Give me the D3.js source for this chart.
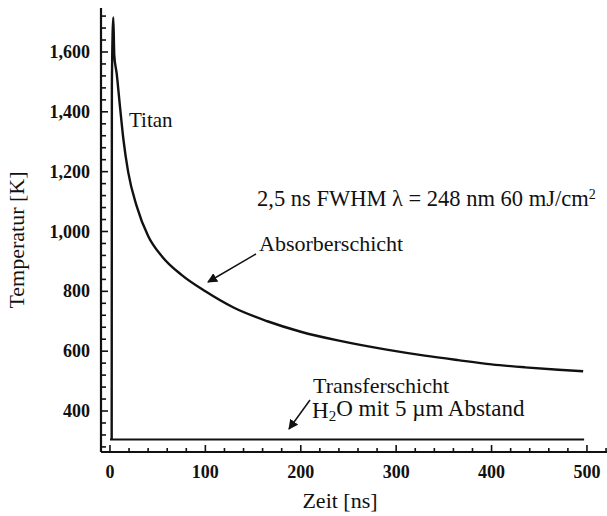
<!DOCTYPE html>
<html>
<head>
<meta charset="utf-8">
<script src="https://cdn.jsdelivr.net/npm/d3@7"></script>
<style>
  body { margin: 0; background: #fff; }
</style>
</head>
<body>
<div id="chart"></div>
<script>
// values
const absorberTime = [1.8, 2.0, 3.5, 4.5, 7, 10.5, 14, 19, 28, 40, 55, 75, 100, 130, 165, 200, 240, 290, 330, 365, 400, 435, 470, 496];
const absorberTemp = [305, 1490, 1715, 1590, 1529, 1417, 1310, 1200, 1085, 985, 915, 855, 800, 745, 700, 665, 635, 605, 585, 570, 556, 546, 538, 533];
const transferTime = [0, 497];
const transferTemp = [305, 305];
const xMajor = [0, 100, 200, 300, 400, 500];
const yMajor = [400, 600, 800, 1000, 1200, 1400, 1600];

const W = 607, H = 516;
const FONT = "'Liberation Serif', Tinos, 'Times New Roman', Times, serif";

const svg = d3.select("#chart").append("svg")
    .attr("width", W)
    .attr("height", H)
    .attr("font-family", FONT)
    .style("font-family", FONT);

// scales (axis lines run from x=101 to the right edge, y from 452 up to 8)
const x = d3.scaleLinear().domain([-9.4, 521]).range([101, 607]);
const y = d3.scaleLinear().domain([263, 1747]).range([452, 8]);

// minor ticks
const xMinor = d3.range(0, 521, 20);
const yMinor = d3.range(280, 1747, 40);

// x axis line + inward ticks
svg.append("line")
    .attr("x1", x.range()[0]).attr("x2", x.range()[1])
    .attr("y1", y.range()[0]).attr("y2", y.range()[0])
    .attr("stroke", "#111").attr("stroke-width", 2.2);
svg.selectAll("line.xminor")
    .data(xMinor)
    .enter().append("line")
    .attr("class", "xminor")
    .attr("x1", d => x(d)).attr("x2", d => x(d))
    .attr("y1", y.range()[0]).attr("y2", d => y.range()[0] - (d % 100 === 0 ? 7 : 4))
    .attr("stroke", "#111").attr("stroke-width", 1.6);

// y axis line + inward ticks
svg.append("line")
    .attr("x1", x.range()[0]).attr("x2", x.range()[0])
    .attr("y1", y.range()[0]).attr("y2", y.range()[1])
    .attr("stroke", "#111").attr("stroke-width", 2.2);
svg.selectAll("line.yminor")
    .data(yMinor)
    .enter().append("line")
    .attr("class", "yminor")
    .attr("x1", x.range()[0]).attr("x2", d => x.range()[0] + (d % 200 === 0 ? 7 : 5))
    .attr("y1", d => y(d)).attr("y2", d => y(d))
    .attr("stroke", "#111").attr("stroke-width", 1.6);

// tick labels
svg.selectAll("text.xlab")
    .data(xMajor)
    .enter().append("text")
    .attr("class", "xlab")
    .attr("x", d => x(d))
    .attr("y", 478)
    .attr("text-anchor", "middle")
    .attr("font-size", "18px")
    .attr("font-weight", "bold")
    .attr("fill", "#111")
    .text(d => d);

svg.selectAll("text.ylab")
    .data(yMajor)
    .enter().append("text")
    .attr("class", "ylab")
    .attr("x", 90)
    .attr("y", d => y(d))
    .attr("dy", "0.34em")
    .attr("text-anchor", "end")
    .attr("font-size", "18px")
    .attr("font-weight", "bold")
    .attr("fill", "#111")
    .text(d => d3.format(",")(d));

// axis titles
svg.append("text")
    .attr("x", 340)
    .attr("y", 508)
    .attr("text-anchor", "middle")
    .attr("font-size", "22px")
    .attr("fill", "#111")
    .text("Zeit [ns]");

svg.append("text")
    .attr("transform", "translate(24,240) rotate(-90)")
    .attr("text-anchor", "middle")
    .attr("font-size", "22px")
    .attr("fill", "#111")
    .text("Temperatur [K]");

// curves
const line = d3.line()
    .x(d => x(d[0]))
    .y(d => y(d[1]))
    .curve(d3.curveMonotoneX);

svg.append("path")
    .datum(transferTime.map((t, i) => [t, transferTemp[i]]))
    .attr("d", d3.line().x(d => x(d[0])).y(d => y(d[1])))
    .attr("fill", "none")
    .attr("stroke", "#111")
    .attr("stroke-width", 2);

svg.append("path")
    .datum(absorberTime.map((t, i) => [t, absorberTemp[i]]))
    .attr("d", line)
    .attr("fill", "none")
    .attr("stroke", "#111")
    .attr("stroke-width", 2.4)
    .attr("stroke-linejoin", "round");

// arrow marker
svg.append("defs").append("marker")
    .attr("id", "arrow")
    .attr("viewBox", "0 0 10 10")
    .attr("refX", 9).attr("refY", 5)
    .attr("markerWidth", 10).attr("markerHeight", 10)
    .attr("markerUnits", "userSpaceOnUse")
    .attr("orient", "auto")
    .append("path")
    .attr("d", "M0,0 L10,5 L0,10 Z")
    .attr("fill", "#111");

// annotations
svg.append("text")
    .attr("x", 129).attr("y", 127)
    .attr("font-size", "21px")
    .attr("fill", "#111")
    .text("Titan");

const cond = svg.append("text")
    .attr("x", 257).attr("y", 206)
    .attr("font-size", "22.5px")
    .attr("fill", "#111");
cond.append("tspan").text("2,5 ns FWHM \u03bb = 248 nm 60 mJ/cm");
cond.append("tspan").attr("dy", "-0.5em").attr("font-size", "14px").text("2");

svg.append("text")
    .attr("x", 259).attr("y", 251)
    .attr("font-size", "22px")
    .attr("fill", "#111")
    .text("Absorberschicht");

svg.append("line")
    .attr("x1", 256).attr("y1", 254)
    .attr("x2", 208).attr("y2", 282)
    .attr("stroke", "#111").attr("stroke-width", 1.5)
    .attr("marker-end", "url(#arrow)");

svg.append("text")
    .attr("x", 313).attr("y", 393)
    .attr("font-size", "22px")
    .attr("fill", "#111")
    .text("Transferschicht");

const h2o = svg.append("text")
    .attr("x", 312).attr("y", 418)
    .attr("font-size", "23px")
    .attr("fill", "#111");
h2o.append("tspan").text("H");
h2o.append("tspan").attr("dy", "0.2em").attr("font-size", "15px").text("2");
h2o.append("tspan").attr("dy", "-0.2em").text("O mit 5 \u00b5m Abstand");

svg.append("line")
    .attr("x1", 310).attr("y1", 400)
    .attr("x2", 289).attr("y2", 429)
    .attr("stroke", "#111").attr("stroke-width", 1.5)
    .attr("marker-end", "url(#arrow)");
</script>
</body>
</html>
